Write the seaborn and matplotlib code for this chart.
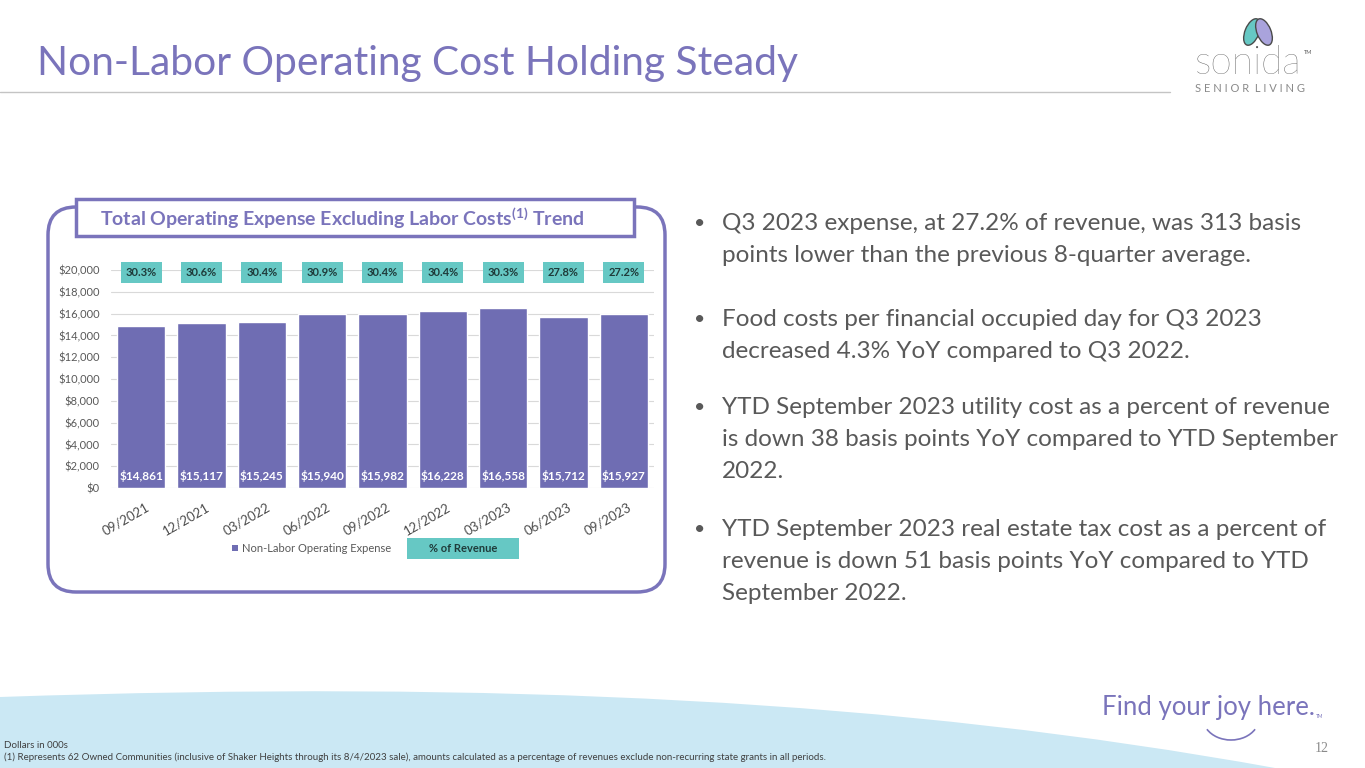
import numpy as np
import pandas as pd
import matplotlib.pyplot as plt
import matplotlib.transforms as mtransforms
from matplotlib.patches import FancyBboxPatch, Rectangle, Ellipse, PathPatch, Arc
from matplotlib.path import Path
import seaborn as sns

sns.set_theme(style="white")
plt.rcParams['font.family'] = ['Lato', 'DejaVu Sans']
plt.rcParams['mathtext.fontset'] = 'custom'
plt.rcParams['mathtext.bf'] = 'Lato:bold'
plt.rcParams['mathtext.rm'] = 'Lato:bold'

# Data
quarters = ['09/2021', '12/2021', '03/2022', '06/2022', '09/2022',
            '12/2022', '03/2023', '06/2023', '09/2023']
expense = [14861, 15117, 15245, 15940, 15982, 16228, 16558, 15712, 15927]
pct_revenue = [30.3, 30.6, 30.4, 30.9, 30.4, 30.4, 30.3, 27.8, 27.2]
y_ticks = list(range(0, 20001, 2000))

bullets = [
    ["Q3 2023 expense, at 27.2% of revenue, was 313 basis",
     "points lower than the previous 8-quarter average."],
    ["Food costs per financial occupied day for Q3 2023",
     "decreased 4.3% YoY compared to Q3 2022."],
    ["YTD September 2023 utility cost as a percent of revenue",
     "is down 38 basis points YoY compared to YTD September",
     "2022."],
    ["YTD September 2023 real estate tax cost as a percent of",
     "revenue is down 51 basis points YoY compared to YTD",
     "September 2022."],
]
bullet_top = [224, 319, 408, 529]

df = pd.DataFrame({'quarter': quarters, 'expense': expense, 'pct': pct_revenue})

PURPLE = '#7a74bb'
BAR = '#6f6db3'
TEAL = '#66c8c4'
GRAY = '#595959'

fig = plt.figure(figsize=(13.65, 7.68), dpi=100)
fig.patch.set_facecolor('white')

# background layer in pixel coordinates
bg = fig.add_axes([0, 0, 1, 1])
bg.set_xlim(0, 1365)
bg.set_ylim(768, 0)
bg.axis('off')

# footer wave
verts = [(0, 697), (500, 680), (900, 700), (1275, 768), (0, 768), (0, 697)]
codes = [Path.MOVETO, Path.CURVE4, Path.CURVE4, Path.CURVE4, Path.LINETO, Path.CLOSEPOLY]
bg.add_patch(PathPatch(Path(verts, codes), fc='#cbe8f4', ec='none'))

# title and rule
bg.text(37, 64, "Non-Labor Operating Cost Holding Steady", fontsize=29.3,
        color=PURPLE, va='center', ha='left')
bg.plot([0, 1170], [92, 92], color='#c4c4c4', lw=1)

# logo
bg.add_patch(Ellipse((1252, 32), 14, 28, angle=22, fc=TEAL, ec='#4a4a4a', lw=1))
bg.add_patch(Ellipse((1264, 32), 14, 28, angle=-22, fc='#a9a3dc', ec='#4a4a4a', lw=1))
bg.text(1248, 63, "sonida", fontsize=28, color='#555555', ha='center', va='center',
        fontweight='light')
bg.text(1304, 52, "TM", fontsize=4, color='#555555', ha='left', va='center')
bg.text(1250, 89, "S E N I O R  L I V I N G", fontsize=8, color='#8a8a8a',
        ha='center', va='center')

# chart panel
bg.add_patch(FancyBboxPatch((48, 207), 617, 385, boxstyle='round,pad=0,rounding_size=28',
                            fc='none', ec=PURPLE, lw=2.5))
bg.add_patch(Rectangle((76, 199), 558, 37, fc='white', ec=PURPLE, lw=2.5, zorder=3))
bg.text(342, 218, r"Total Operating Expense Excluding Labor Costs$^{\mathbf{(1)}}$ Trend",
        fontsize=14, fontweight='bold', color=PURPLE, ha='center', va='center', zorder=4)

# legend
bg.add_patch(Rectangle((232, 545), 6, 6, fc=BAR, ec='none'))
bg.text(242, 548, "Non-Labor Operating Expense", fontsize=8, color=GRAY, va='center')
bg.add_patch(Rectangle((407, 538), 112, 21, fc=TEAL, ec='none'))
bg.text(463, 548.5, "% of Revenue", fontsize=8, fontweight='bold', color='#1f3b3a',
        ha='center', va='center')

# bullets
for lines, y in zip(bullets, bullet_top):
    bg.text(694, y, "\u2022", fontsize=14, color=GRAY, va='center', ha='left')
    for ln in lines:
        bg.text(722, y, ln, fontsize=17.5, color=GRAY, va='center', ha='left')
        y += 32

# footer texts
bg.text(4, 745, "Dollars in 000s", fontsize=7, color='#404040', va='center')
bg.text(4, 757, "(1) Represents 62 Owned Communities (inclusive of Shaker Heights through its "
        "8/4/2023 sale), amounts calculated as a percentage of revenues exclude "
        "non-recurring state grants in all periods.", fontsize=7, color='#404040', va='center')
bg.text(1322, 749, "12", fontsize=10, color='#8a8a8a', va='center', ha='center',
        family=['Liberation Serif', 'DejaVu Serif'])
bg.text(1102, 708, "Find your joy here.", fontsize=18.5, color=PURPLE, va='center', ha='left')
bg.text(1316, 716, "TM", fontsize=3.5, color=PURPLE, va='center')
bg.add_patch(Arc((1231, 718), 56, 44, theta1=25, theta2=155, color=PURPLE, lw=1.2))

# bar chart
ax = fig.add_axes([111 / 1365, 1 - 488 / 768, (654 - 111) / 1365, (488 - 270) / 768])
ax.set_facecolor('none')
ax.set_zorder(2)
sns.barplot(data=df, x='quarter', y='expense', color=BAR, saturation=1, width=0.8, ax=ax)
ax.set_xlim(-0.5, len(quarters) - 0.5)
ax.set_ylim(0, 20000)
ax.set_yticks(y_ticks)
ax.set_yticklabels([f"${v:,}" for v in y_ticks], fontsize=8, color=GRAY)
ax.yaxis.grid(True, color='#d9d9d9', lw=0.8)
ax.set_axisbelow(True)
for s in ax.spines.values():
    s.set_visible(False)
ax.tick_params(axis='both', length=0)
ax.tick_params(axis='y', pad=8)
ax.set_xlabel('')
ax.set_ylabel('')
offset = mtransforms.ScaledTranslation(4 / 100, -8 / 100, fig.dpi_scale_trans)
for lab in ax.get_xticklabels():
    lab.set_rotation(30)
    lab.set_ha('right')
    lab.set_rotation_mode('anchor')
    lab.set_fontsize(9.5)
    lab.set_color('#4d4d4d')
    lab.set_transform(lab.get_transform() + offset)

for i, row in df.iterrows():
    ax.text(i, 1100, f"${row['expense']:,}", ha='center', va='center', color='white',
            fontsize=8.5, fontweight='bold')
    ax.text(i, 19800, f"{row['pct']:.1f}%", ha='center', va='center', color='#1f3b3a',
            fontsize=8, fontweight='bold',
            bbox=dict(boxstyle='square,pad=0.45', fc=TEAL, ec='none'))

plt.savefig('out.png', dpi=100)
